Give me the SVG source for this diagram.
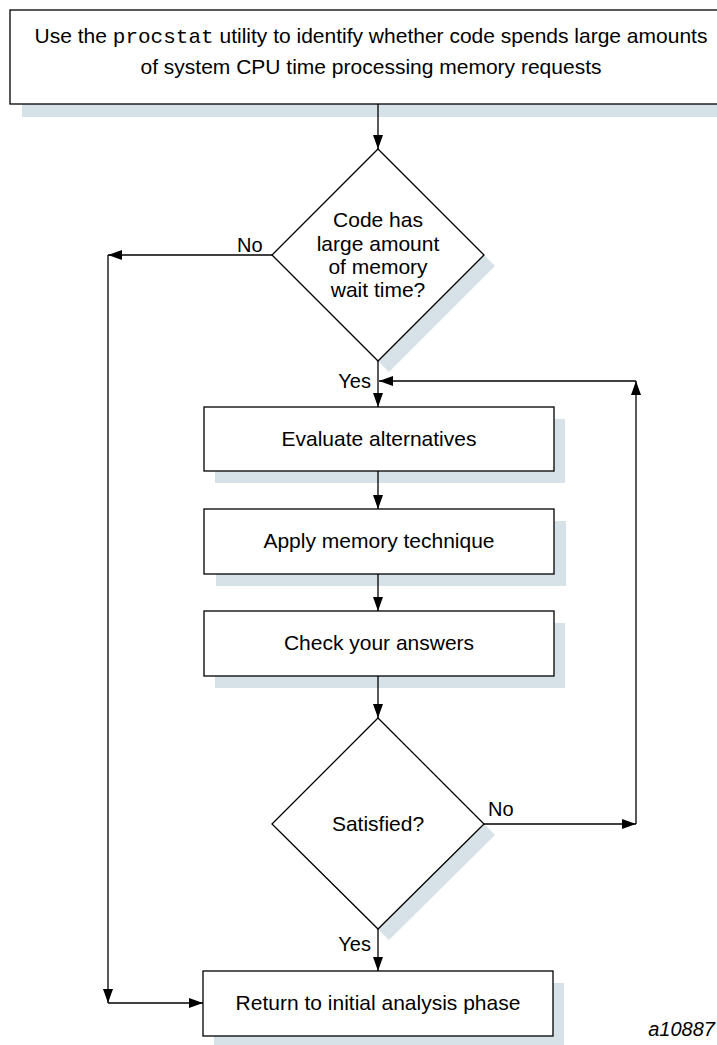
<svg xmlns="http://www.w3.org/2000/svg" width="717" height="1045" viewBox="0 0 717 1045">
<style>
.box{fill:#fff;stroke:#000;stroke-width:1.3}
.sh{fill:#d7e1e8;stroke:none}
.t{font-family:"Liberation Sans",Arial,sans-serif;font-size:21px;fill:#000;text-anchor:middle}
.lbl{font-family:"Liberation Sans",Arial,sans-serif;font-size:20px;fill:#000}
.mono{font-family:"Liberation Mono","Courier New",monospace}
.c{fill:none;stroke:#000;stroke-width:1.3;marker-end:url(#ah)}
</style>
<defs>
<marker id="ah" viewBox="0 0 14 10" refX="14" refY="5" markerWidth="14" markerHeight="10" markerUnits="userSpaceOnUse" orient="auto">
<path d="M0,0 L14,5 L0,10 Z" fill="#000"/>
</marker>
</defs>
<rect width="717" height="1045" fill="#fff"/>
<g id="start">
<rect class="sh" x="22" y="22" width="720" height="95"/>
<rect class="box" x="10" y="10" width="730" height="94"/>
<text class="t" x="371" y="43">Use the <tspan class="mono">procstat</tspan> utility to identify whether code spends large amounts</text>
<text class="t" x="371" y="74">of system CPU time processing memory requests</text>
</g>
<g id="decision1">
<polygon class="sh" points="389,160 495,266 389,372 283,266"/>
<polygon class="box" points="378,149 484,255 378,361 272,255"/>
<text class="t" x="378" y="227">Code has</text>
<text class="t" x="378" y="251">large amount</text>
<text class="t" x="378" y="274">of memory</text>
<text class="t" x="378" y="297">wait time?</text>
</g>
<g id="evaluate">
<rect class="sh" x="215" y="419" width="350" height="64"/>
<rect class="box" x="204" y="407" width="350" height="64"/>
<text class="t" x="379" y="446">Evaluate alternatives</text>
</g>
<g id="apply">
<rect class="sh" x="216" y="521" width="350" height="65"/>
<rect class="box" x="204" y="509" width="350" height="65"/>
<text class="t" x="379" y="548">Apply memory technique</text>
</g>
<g id="check">
<rect class="sh" x="215" y="623" width="350" height="65"/>
<rect class="box" x="204" y="611" width="350" height="65"/>
<text class="t" x="379" y="650">Check your answers</text>
</g>
<g id="decision2">
<polygon class="sh" points="389,729 495,835 389,940 283,835"/>
<polygon class="box" points="378,718 484,824 378,929 272,824"/>
<text class="t" x="378" y="831">Satisfied?</text>
</g>
<g id="return">
<rect class="sh" x="214" y="983" width="350" height="65"/>
<rect class="box" x="203" y="971" width="350" height="65"/>
<text class="t" x="378" y="1010">Return to initial analysis phase</text>
</g>
<g id="connectors">
<line class="c" x1="378" y1="104" x2="378" y2="149"/>
<line class="c" x1="272" y1="255" x2="108" y2="255"/>
<line class="c" x1="108" y1="255" x2="108" y2="1003"/>
<line class="c" x1="108" y1="1003" x2="203" y2="1003"/>
<line class="c" x1="378" y1="361" x2="378" y2="407"/>
<line class="c" x1="378" y1="471" x2="378" y2="509"/>
<line class="c" x1="378" y1="574" x2="378" y2="611"/>
<line class="c" x1="378" y1="676" x2="378" y2="718"/>
<line class="c" x1="484" y1="824" x2="636" y2="824"/>
<line class="c" x1="636" y1="824" x2="636" y2="381"/>
<line class="c" x1="636" y1="381" x2="379" y2="381"/>
<line class="c" x1="378" y1="929" x2="378" y2="971"/>
<text class="lbl" x="237" y="252">No</text>
<text class="lbl" x="371" y="388" text-anchor="end">Yes</text>
<text class="lbl" x="488" y="816">No</text>
<text class="lbl" x="371" y="951" text-anchor="end">Yes</text>
</g>
<text class="lbl" x="715" y="1036" font-style="italic" font-size="15" text-anchor="end">a10887</text>
</svg>
